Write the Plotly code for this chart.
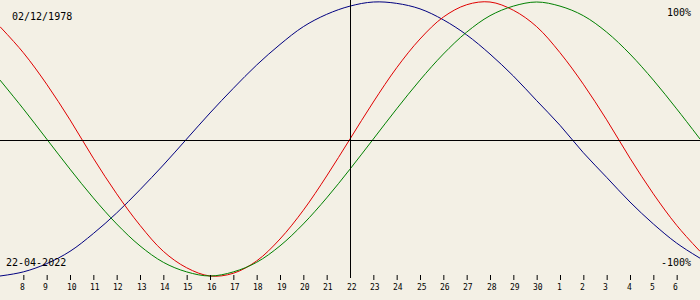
import plotly.graph_objects as go

# Days relative to 22-04-2022 (centre of the chart)
days = list(range(-15, 16))

# Biorhythm values in percent
physical = [82, 63, 40, 14, -14, -40, -63, -82, -94, -100, -98, -89, -73, -52, -27,
            0, 27, 52, 73, 89, 98, 100, 94, 82, 63, 40, 14, -14, -40, -63, -82]
emotional = [43, 22, 0, -22, -43, -62, -78, -90, -97, -100, -97, -90, -78, -62, -43,
             -22, 0, 22, 43, 62, 78, 90, 97, 100, 97, 90, 78, 62, 43, 22, 0]
intellectual = [-100, -97, -91, -82, -69, -54, -37, -19, 0, 19, 37, 54, 69, 82, 91,
                97, 100, 99, 95, 87, 76, 62, 46, 28, 10, -10, -28, -46, -62, -76, -87]

tick_days = list(range(-14, 15))
tick_labels = ["8", "9", "10", "11", "12", "13", "14", "15", "16", "17", "18", "19",
               "20", "21", "22", "23", "24", "25", "26", "27", "28", "29", "30",
               "1", "2", "3", "4", "5", "6"]

birth_label = "02/12/1978"
date_label = "22-04-2022"
top_label = "100%"
bottom_label = "-100%"

BG = "#f3f0e5"
W, H = 700, 300
# pixel mapping: +100 -> y=2px, -100 -> y=276px
px_per_unit = 274 / 200.0
ymax = 100 + 2 / px_per_unit
ymin = -100 - (H - 276) / px_per_unit
px_per_day = W / 30.0
half_day = 0.5 / px_per_day      # half a pixel in day units (crisp lines)
zero_line = -1.5 / px_per_unit   # centre line drawn on pixel row 140


def py(p):
    return 1 - p / H


fig = go.Figure()
for vals, col in [(intellectual, "#000080"), (physical, "#e00000"), (emotional, "#008000")]:
    fig.add_trace(go.Scatter(x=days, y=vals, mode="lines",
                             line=dict(color=col, width=1, shape="spline", smoothing=1.0),
                             hoverinfo="skip", showlegend=False))

shapes = [
    dict(type="line", xref="paper", yref="y", x0=0, x1=1, y0=zero_line, y1=zero_line,
         line=dict(color="black", width=1)),
    dict(type="line", xref="x", yref="paper", x0=half_day, x1=half_day, y0=py(0), y1=py(278),
         line=dict(color="black", width=1)),
]
for d in tick_days:
    if d == 0:
        continue
    shapes.append(dict(type="line", xref="x", yref="paper", x0=d + half_day, x1=d + half_day,
                       y0=py(275), y1=py(280), line=dict(color="black", width=1)))

annotations = []
for d, lab in zip(tick_days, tick_labels):
    annotations.append(dict(x=d, y=py(287), xref="x", yref="paper", text=lab,
                            showarrow=False, xanchor="left", yanchor="middle",
                            xshift=-5.5, font=dict(family="DejaVu Sans Mono", size=8, color="black")))

big = dict(family="DejaVu Sans Mono", size=10, color="black")
annotations += [
    dict(x=10 / W, y=py(17), xref="paper", yref="paper", text=birth_label, showarrow=False,
         xanchor="left", yanchor="middle", font=big),
    dict(x=693 / W, y=py(12), xref="paper", yref="paper", text=top_label, showarrow=False,
         xanchor="right", yanchor="middle", font=big),
    dict(x=693 / W, y=py(262), xref="paper", yref="paper", text=bottom_label, showarrow=False,
         xanchor="right", yanchor="middle", font=big),
    dict(x=4 / W, y=py(262), xref="paper", yref="paper", text=date_label, showarrow=False,
         xanchor="left", yanchor="middle", font=big),
]

fig.update_layout(
    width=W, height=H, margin=dict(l=0, r=0, t=0, b=0, pad=0),
    paper_bgcolor=BG, plot_bgcolor=BG,
    xaxis=dict(range=[-15, 15], visible=False, fixedrange=True),
    yaxis=dict(range=[ymin, ymax], visible=False, fixedrange=True),
    shapes=shapes, annotations=annotations,
)

fig.write_html("out.html", config={"displayModeBar": False})
